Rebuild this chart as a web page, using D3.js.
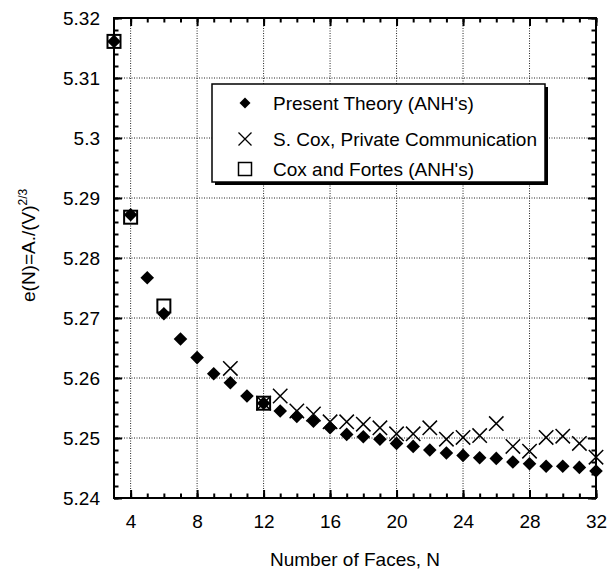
<!DOCTYPE html>
<html>
<head>
<meta charset="utf-8">
<script src="https://cdn.jsdelivr.net/npm/d3@7"></script>
<style>
body { margin: 0; background: #fff; }
text { font-family: "Liberation Sans", Arial, Helvetica, sans-serif; fill: #000; }
</style>
</head>
<body>
<svg id="thesvg" width="611" height="580"></svg>
<script>
// Present Theory (ANH's), N = 3..32
var theoryN = [3, 4, 5, 6, 7, 8, 9, 10, 11, 12, 13, 14, 15, 16, 17, 18, 19, 20, 21, 22, 23, 24, 25, 26, 27, 28, 29, 30, 31, 32];
var theoryE = [5.3161, 5.2872, 5.2767, 5.2707, 5.2665, 5.2634, 5.2607, 5.2592, 5.2570, 5.2558,
               5.2545, 5.2536, 5.2528, 5.2517, 5.2506, 5.2502, 5.2498, 5.2491, 5.2486, 5.2480,
               5.2475, 5.2471, 5.2467, 5.2466, 5.2460, 5.2457, 5.2453, 5.2453, 5.2451, 5.2445];

// S. Cox, private communication
var coxN = [10, 12, 13, 14, 15, 16, 17, 18, 19, 20, 21, 22, 23, 24, 25, 26, 27, 28, 29, 30, 31, 32];
var coxE = [5.2616, 5.2558, 5.2570, 5.2545, 5.2540, 5.2527, 5.2527, 5.2523, 5.2517, 5.2507, 5.2507,
            5.2517, 5.2498, 5.2501, 5.2504, 5.2524, 5.2486, 5.2478, 5.2501, 5.2503, 5.2491, 5.2468];

// Cox and Fortes (ANH's)
var fortesN = [3, 4, 6, 12];
var fortesE = [5.3161, 5.2868, 5.2720, 5.2558];

var xTicks = [4, 8, 12, 16, 20, 24, 28, 32];
var yTicks = [5.24, 5.25, 5.26, 5.27, 5.28, 5.29, 5.30, 5.31, 5.32];
var legendNames = ["Present Theory (ANH's)", "S. Cox, Private Communication", "Cox and Fortes (ANH's)"];
var legendMarks = ["diamond", "cross", "square"];

var pLeft = 114, pRight = 596, pTop = 18, pBottom = 498;
var font_size = "19px";

var svg = d3.select("#thesvg");

var xScale = d3.scaleLinear().domain([3, 32]).range([pLeft, pRight]);
var yScale = d3.scaleLinear().domain([5.24, 5.32]).range([pBottom, pTop]);

var minorX = d3.range(4, 33, 1);
var minorY = d3.range(0, 41).map(function(k) { return +(5.24 + k * 0.002).toFixed(3); });

// dotted grid
svg.append("g").selectAll("line")
    .data(xTicks.filter(function(d) { return d < 32; }))
    .join("line")
    .attr("x1", function(d) { return xScale(d); })
    .attr("x2", function(d) { return xScale(d); })
    .attr("y1", pTop).attr("y2", pBottom)
    .attr("stroke", "#222").attr("stroke-width", 1).attr("stroke-dasharray", "1,1.5");

svg.append("g").selectAll("line")
    .data(yTicks.filter(function(d) { return d > 5.2405 && d < 5.3195; }))
    .join("line")
    .attr("x1", pLeft).attr("x2", pRight)
    .attr("y1", function(d) { return yScale(d); })
    .attr("y2", function(d) { return yScale(d); })
    .attr("stroke", "#222").attr("stroke-width", 1).attr("stroke-dasharray", "1,1.5");

// axes with inward ticks on all four sides
function addAxis(axisFn, scale, values, size, tx, ty, fmt, pad) {
    var g = svg.append("g")
        .attr("transform", "translate(" + tx + "," + ty + ")")
        .call(axisFn(scale).tickValues(values).tickSizeInner(-size).tickSizeOuter(0)
            .tickPadding(pad).tickFormat(fmt));
    g.select(".domain").remove();
    g.selectAll("line").attr("stroke", "#000").attr("stroke-width", 2);
    g.selectAll("text").style("font-size", font_size).attr("font-family", null);
    return g;
}

var noLabel = function() { return ""; };
addAxis(d3.axisBottom, xScale, minorX, 4.5, 0, pBottom, noLabel, 0);
addAxis(d3.axisTop, xScale, minorX, 4.5, 0, pTop, noLabel, 0);
addAxis(d3.axisLeft, yScale, minorY, 4.5, pLeft, 0, noLabel, 0);
addAxis(d3.axisRight, yScale, minorY, 4.5, pRight, 0, noLabel, 0);

var gx = addAxis(d3.axisBottom, xScale, xTicks, 8, 0, pBottom, d3.format("d"), 17);
addAxis(d3.axisTop, xScale, xTicks, 8, 0, pTop, noLabel, 0);
var gy = addAxis(d3.axisLeft, yScale, yTicks, 8, pLeft, 0, function(d) { return String(+d.toFixed(2)); }, 14);
addAxis(d3.axisRight, yScale, yTicks, 8, pRight, 0, noLabel, 0);

// frame
svg.append("rect")
    .attr("x", pLeft).attr("y", pTop)
    .attr("width", pRight - pLeft).attr("height", pBottom - pTop)
    .attr("fill", "none").attr("stroke", "#000").attr("stroke-width", 2);

// markers
function diamondPath(r) { return "M0," + (-r) + "L" + r + ",0L0," + r + "L" + (-r) + ",0Z"; }
function crossPath(r) { return "M" + (-r) + "," + (-r) + "L" + r + "," + r + "M" + (-r) + "," + r + "L" + r + "," + (-r); }

svg.append("g").selectAll("rect")
    .data(d3.zip(fortesN, fortesE))
    .join("rect")
    .attr("x", function(d) { return xScale(d[0]) - 6.5; })
    .attr("y", function(d) { return yScale(d[1]) - 6.5; })
    .attr("width", 13).attr("height", 13)
    .attr("fill", "none").attr("stroke", "#000").attr("stroke-width", 2);

svg.append("g").selectAll("path")
    .data(d3.zip(theoryN, theoryE))
    .join("path")
    .attr("transform", function(d) { return "translate(" + xScale(d[0]) + "," + yScale(d[1]) + ")"; })
    .attr("d", diamondPath(6.8))
    .attr("fill", "#000");

svg.append("g").selectAll("path")
    .data(d3.zip(coxN, coxE))
    .join("path")
    .attr("transform", function(d) { return "translate(" + xScale(d[0]) + "," + yScale(d[1]) + ")"; })
    .attr("d", crossPath(7.2))
    .attr("fill", "none").attr("stroke", "#000").attr("stroke-width", 1.5);

// legend
var lg = svg.append("g");
lg.append("rect").attr("x", 215).attr("y", 87).attr("width", 333).attr("height", 98).attr("fill", "#000");
lg.append("rect").attr("x", 212).attr("y", 84).attr("width", 333).attr("height", 98)
    .attr("fill", "#fff").attr("stroke", "#000").attr("stroke-width", 1.5);

var rowY = [103, 139, 169];
for (let j = 0; j < legendNames.length; j++) {
    var m = lg.append("g").attr("transform", "translate(245," + rowY[j] + ")");
    if (legendMarks[j] == "diamond") {
        m.append("path").attr("d", diamondPath(5.5)).attr("fill", "#000");
    } else if (legendMarks[j] == "cross") {
        m.append("path").attr("d", crossPath(6.5)).attr("fill", "none").attr("stroke", "#000").attr("stroke-width", 1.3);
    } else {
        m.append("rect").attr("x", -6.5).attr("y", -6.5).attr("width", 13).attr("height", 13)
            .attr("fill", "none").attr("stroke", "#000").attr("stroke-width", 1.5);
    }
    lg.append("text")
        .attr("x", 273).attr("y", rowY[j] + 6.5)
        .style("font-size", font_size)
        .text(legendNames[j]);
}

// axis titles
svg.append("text")
    .attr("x", (pLeft + pRight) / 2).attr("y", 566)
    .attr("text-anchor", "middle")
    .style("font-size", font_size)
    .text("Number of Faces, N");

var yt = svg.append("text")
    .attr("transform", "translate(35,302) rotate(-90)")
    .style("font-size", font_size);
yt.append("tspan").text("e(N)=A./(V)");
yt.append("tspan").attr("dy", -8).style("font-size", "12px").text("2/3");
</script>
</body>
</html>
